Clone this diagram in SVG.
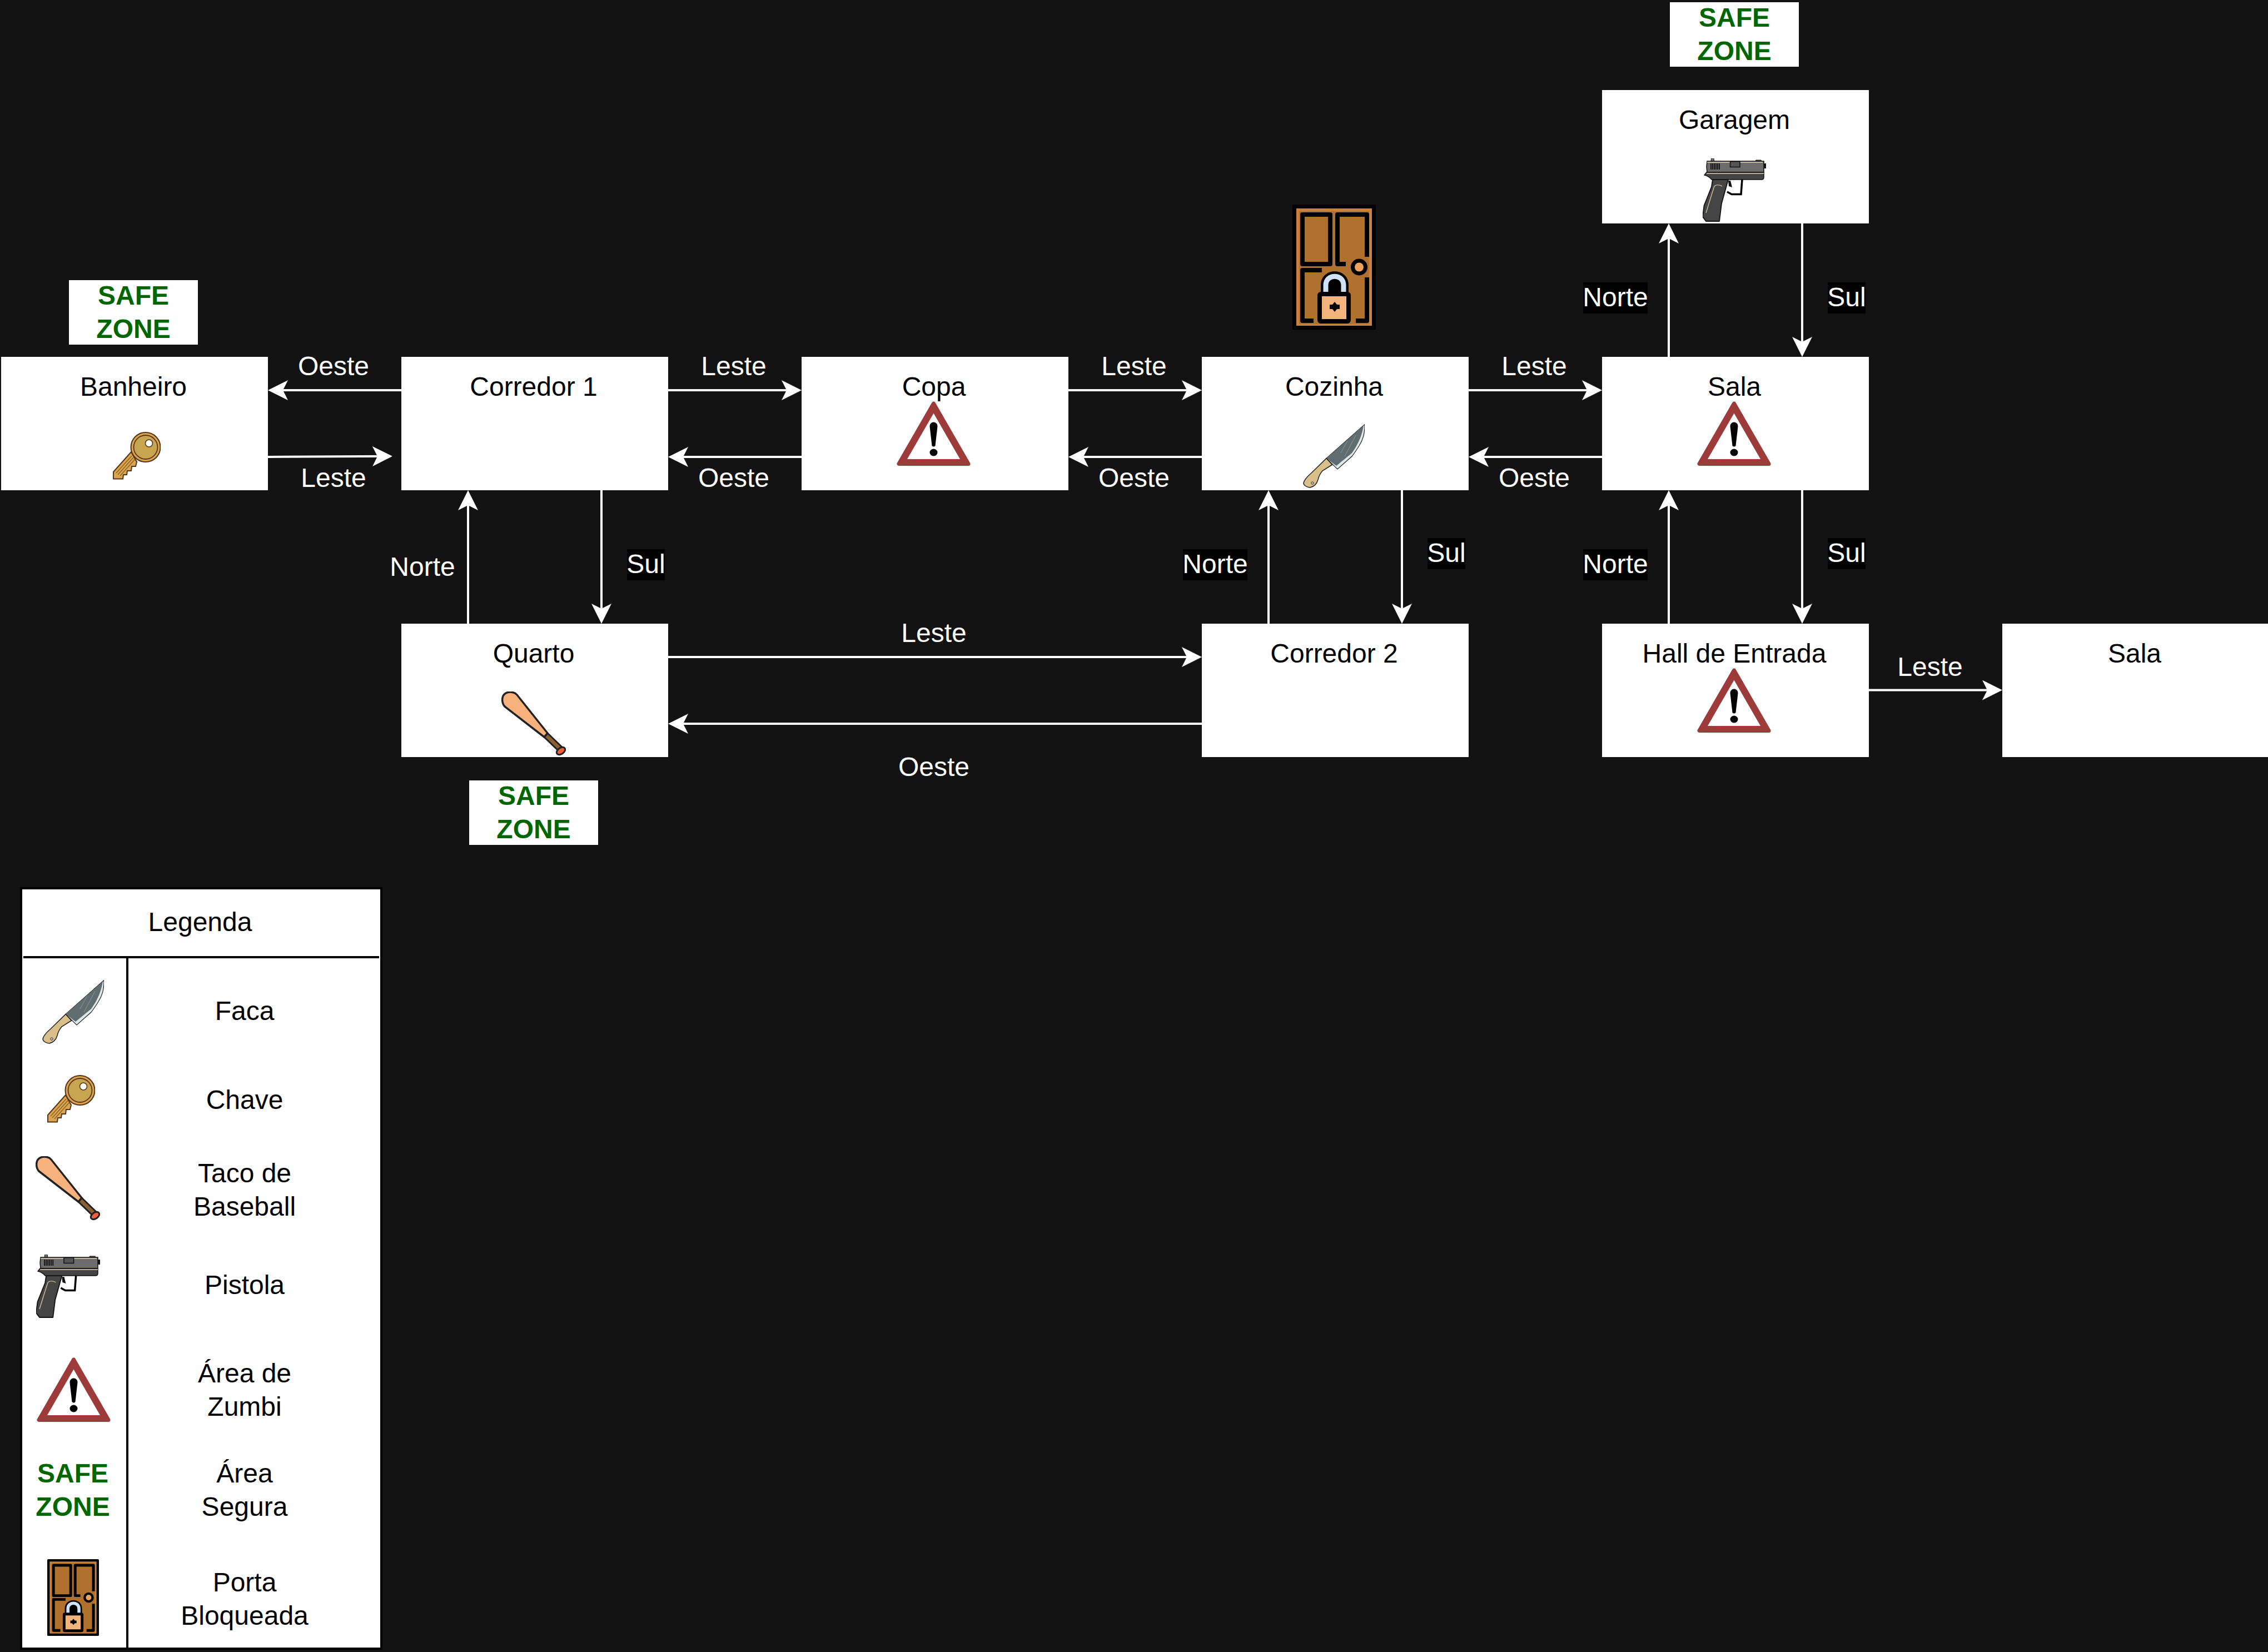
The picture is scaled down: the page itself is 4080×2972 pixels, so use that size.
<svg xmlns="http://www.w3.org/2000/svg" xmlns:xlink="http://www.w3.org/1999/xlink" width="4080" height="2972" viewBox="0 0 4080 2972">
<style>
text{font-family:"Liberation Sans",Arial,sans-serif;font-size:48px;text-anchor:middle;fill:#000}
.room{fill:#fff}
.edge{fill:none;stroke:#fff;stroke-width:4;marker-end:url(#arrow)}
.lbl{fill:#fff}
.lblbg{fill:#000}
.safe{font-weight:bold;fill:#006600}
.sz{fill:#fff}
.lg{fill:#fff;stroke:#000;stroke-width:4}
.lgl{fill:none;stroke:#000;stroke-width:4}
</style>
<defs>
<marker id="arrow" markerUnits="userSpaceOnUse" markerWidth="36" markerHeight="36" viewBox="0 0 36 36" refX="26" refY="18" orient="auto"><path d="M0,0L36,18L0,36L9,18Z" fill="#fff"/></marker>
<symbol id="knife" viewBox="0 0 111 115" preserveAspectRatio="none">
<path d="M111,0.5C111,18 108,28 101,39C96,47 92,53 88,58L62,81L42,61.6Z" fill="#dfe8e6" stroke="#222" stroke-width="1.2"/>
<path d="M109,3C106,20 100,35 88,52L60,75L42,61.6Z" fill="#5f6d70"/>
<path d="M95,20L75,58M80,30L68,52" stroke="#7a8a8c" stroke-width="1.5" fill="none"/>
<path d="M42,61.6L52.6,73L35,84C30,90 28,95 27,100C25,107 21,112 13,114C7,114 1,110 1,106C2,101 8,94 15,88Z" fill="#d9bf8a" stroke="#222" stroke-width="1.5"/>
<circle cx="17" cy="106" r="2.2" fill="#ccc" stroke="#333" stroke-width="1"/>
</symbol>
<symbol id="key" viewBox="0 0 86 86" preserveAspectRatio="none">
<path d="M33,36L1,72L1,84.5L18,84.5L19,77L25,77L26,70L33,70L34,62L41,62L43,54Z" fill="#d9a650" stroke="#5a3416" stroke-width="2"/>
<path d="M6,74L34,43M9,77L37,46M13,79L40,49" stroke="#8e6024" stroke-width="1.4" fill="none"/>
<circle cx="59" cy="27.500" r="26.500" fill="#d9a650" stroke="#5a3416" stroke-width="2"/>
<circle cx="59" cy="27.500" r="21.500" fill="#c8a550" stroke="#5a3416" stroke-width="1.800"/>
<circle cx="65" cy="20.500" r="6.500" fill="#fff" stroke="#5a3416" stroke-width="1.600"/>
</symbol>
<symbol id="bat" viewBox="0 0 116 116" preserveAspectRatio="none">
<path d="M76,81L83,75L108,99L102,106Z" fill="#8b6030" stroke="#222" stroke-width="3"/>
<path d="M6,27C0,20 0,8 7,3.500C13,0 23,0 28,6L83,75L77,82Z" fill="#f7b17c" stroke="#222" stroke-width="3.500" stroke-linejoin="round"/>
<ellipse cx="107" cy="107" rx="8.500" ry="5.500" transform="rotate(-35 107 107)" fill="#ee5f3a" stroke="#222" stroke-width="3"/>
</symbol>
<symbol id="pistol" viewBox="0 0 114 114" preserveAspectRatio="none">
<path d="M15,5L15.500,0L20,0L20.500,5Z" fill="#777" stroke="#111" stroke-width="1"/>
<path d="M95,4L96,3L105,3L106,5Z" fill="#777" stroke="#111" stroke-width="1"/>
<rect x="110" y="9" width="4" height="9" fill="#111"/>
<path d="M18,38L46,38L34,81L30,113L6,113L0,105L2.500,85L16,51Z" fill="#454545" stroke="#111" stroke-width="1.800" stroke-linejoin="round"/>
<path d="M35,50C30,47 24,47 21,50L14,72L6,98" fill="none" stroke="#d8d2b0" stroke-width="1.200"/>
<path d="M44,60L52,64.500L69,64.500L71,38" fill="none" stroke="#000" stroke-width="3.500"/>
<path d="M46,40L47,50L53,52L50,40Z" fill="#111"/>
<path d="M8,5L110,5L110,25L8,25L7,15Z" fill="#6c6c6c" stroke="#111" stroke-width="1.500"/>
<path d="M3,30L7,25L110,25L110,34Q110,38 106,38L16,38C12,33 8,31 3,30Z" fill="#444" stroke="#111" stroke-width="1.500" stroke-linejoin="round"/>
<path d="M8,7L49,7M67,7L108,7M7,27L110,27" stroke="#d8d2b0" stroke-width="1.500" fill="none"/>
<rect x="49.500" y="5.500" width="17.500" height="10" fill="#555" stroke="#111" stroke-width="1.500"/>
<path d="M15,9V20M18,9V20M21,9V20M24,9V20M27,9V20M30,9V20" stroke="#111" stroke-width="1.800" fill="none"/>
</symbol>
<symbol id="warn" viewBox="0 0 133 116" preserveAspectRatio="none">
<path d="M66.500,4L4,112.500L129,112.500Z" fill="#9d3a3a" stroke="#9d3a3a" stroke-width="7" stroke-linejoin="round"/>
<path d="M66.500,21.500L19,104L114,104Z" fill="#fff"/>
<path d="M59.500,45C59.500,35 73.500,35 73.500,45L69.500,80Q66.500,83 63.500,80Z" fill="#000"/>
<ellipse cx="66.500" cy="92" rx="7" ry="6.500" fill="#000"/>
</symbol>
<symbol id="door" viewBox="0 0 150 225" preserveAspectRatio="none">
<rect x="0" y="0" width="150" height="225" rx="3" fill="#000"/>
<rect x="7" y="7" width="136" height="211" fill="#c8813e"/>
<rect x="12" y="12" width="126" height="203" fill="#b0702e"/>
<rect x="18" y="18" width="50" height="89" fill="#b0702e" stroke="#000" stroke-width="8" stroke-linejoin="round"/>
<path d="M96,107L81,107L81,18L134,18L134,94" fill="none" stroke="#000" stroke-width="8" stroke-linejoin="round"/>
<circle cx="120" cy="112.500" r="11.500" fill="#eda35c" stroke="#000" stroke-width="7"/>
<path d="M53,118L18,118L18,209L38,209" fill="none" stroke="#000" stroke-width="8" stroke-linejoin="round"/>
<path d="M134,131L134,209L114,209" fill="none" stroke="#000" stroke-width="8" stroke-linejoin="round"/>
<path d="M51,160V145C51,112 101,112 101,145V160Z" fill="#000"/>
<path d="M60,160V145C60,124 92,124 92,145V160" fill="none" stroke="#cfe2f8" stroke-width="9"/>
<path d="M70,160V146C70,136 82,136 82,146V160" fill="none" stroke="#000" stroke-width="5"/>
<rect x="49" y="161" width="52" height="49" rx="2" fill="#f0b47c" stroke="#000" stroke-width="8"/>
<path d="M76,175l4,5h5v8h-5l-4,5l-4,-5h-5v-8h5Z" fill="#000"/>
</symbol>
</defs>
<rect id="background" width="4080" height="2972" fill="#121212"/>
<g id="connectors">
<path class="edge" d="M722,702H492"/>
<path class="edge" d="M482,822L696,820.800"/>
<path class="edge" d="M1202,702H1432"/>
<path class="edge" d="M1442,822H1212"/>
<path class="edge" d="M1922,702H2152"/>
<path class="edge" d="M2162,822H1932"/>
<path class="edge" d="M2642,702H2872"/>
<path class="edge" d="M2882,822H2652"/>
<path class="edge" d="M3002,642V412"/>
<path class="edge" d="M3242,402V632"/>
<path class="edge" d="M842,1122V892"/>
<path class="edge" d="M1082,882V1112"/>
<path class="edge" d="M2282,1122V892"/>
<path class="edge" d="M2522,882V1112"/>
<path class="edge" d="M3002,1122V892"/>
<path class="edge" d="M3242,882V1112"/>
<path class="edge" d="M1202,1182H2152"/>
<path class="edge" d="M2162,1302H1212"/>
<path class="edge" d="M3362,1241.500H3592"/>
</g>
<g id="connector-labels">
<text class="lbl" x="600" y="675">Oeste</text>
<text class="lbl" x="600" y="876">Leste</text>
<text class="lbl" x="1320" y="675">Leste</text>
<text class="lbl" x="1320" y="876">Oeste</text>
<text class="lbl" x="2040" y="675">Leste</text>
<text class="lbl" x="2040" y="876">Oeste</text>
<text class="lbl" x="2760" y="675">Leste</text>
<text class="lbl" x="2760" y="876">Oeste</text>
<rect class="lblbg" x="2848" y="508" width="116" height="56"/><text class="lbl" x="2906" y="551">Norte</text>
<rect class="lblbg" x="3288" y="508" width="68" height="56"/><text class="lbl" x="3322" y="551">Sul</text>
<text class="lbl" x="760" y="1036">Norte</text>
<rect class="lblbg" x="1128" y="988" width="68" height="56"/><text class="lbl" x="1162" y="1031">Sul</text>
<rect class="lblbg" x="2128" y="988" width="116" height="56"/><text class="lbl" x="2186" y="1031">Norte</text>
<rect class="lblbg" x="2568" y="968" width="68" height="56"/><text class="lbl" x="2602" y="1011">Sul</text>
<rect class="lblbg" x="2848" y="988" width="116" height="56"/><text class="lbl" x="2906" y="1031">Norte</text>
<rect class="lblbg" x="3288" y="968" width="68" height="56"/><text class="lbl" x="3322" y="1011">Sul</text>
<text class="lbl" x="1680" y="1155">Leste</text>
<text class="lbl" x="1680" y="1396">Oeste</text>
<text class="lbl" x="3472" y="1216">Leste</text>
</g>
<g id="node-garagem"><rect class="room" x="2882" y="162" width="480" height="240"/><text x="3120" y="232">Garagem</text><use href="#pistol" x="3063" y="285" width="114" height="114"/></g>
<g id="node-banheiro"><rect class="room" x="2" y="642" width="480" height="240"/><text x="240" y="712">Banheiro</text><use href="#key" x="203" y="777" width="86" height="86"/></g>
<g id="node-corredor1"><rect class="room" x="722" y="642" width="480" height="240"/><text x="960" y="712">Corredor 1</text></g>
<g id="node-copa"><rect class="room" x="1442" y="642" width="480" height="240"/><text x="1680" y="712">Copa</text><use href="#warn" x="1613" y="722" width="133" height="116"/></g>
<g id="node-cozinha"><rect class="room" x="2162" y="642" width="480" height="240"/><text x="2400" y="712">Cozinha</text><use href="#knife" x="2344" y="763" width="111" height="115"/></g>
<g id="node-sala"><rect class="room" x="2882" y="642" width="480" height="240"/><text x="3120" y="712">Sala</text><use href="#warn" x="3053" y="722" width="133" height="116"/></g>
<g id="node-quarto"><rect class="room" x="722" y="1122" width="480" height="240"/><text x="960" y="1192">Quarto</text><use href="#bat" x="902" y="1244" width="116" height="116"/></g>
<g id="node-corredor2"><rect class="room" x="2162" y="1122" width="480" height="240"/><text x="2400" y="1192">Corredor 2</text></g>
<g id="node-hall"><rect class="room" x="2882" y="1122" width="480" height="240"/><text x="3120" y="1192">Hall de Entrada</text><use href="#warn" x="3053" y="1202" width="133" height="116"/></g>
<g id="node-sala2"><rect class="room" x="3602" y="1122" width="480" height="240"/><text x="3840" y="1192">Sala</text></g>
<g id="safe-garagem"><rect class="sz" x="3004" y="4" width="232" height="116"/><text class="safe" x="3120" y="48">SAFE</text><text class="safe" x="3120" y="108">ZONE</text></g>
<g id="safe-banheiro"><rect class="sz" x="124" y="504" width="232" height="116"/><text class="safe" x="240" y="548">SAFE</text><text class="safe" x="240" y="608">ZONE</text></g>
<g id="safe-quarto"><rect class="sz" x="844" y="1404" width="232" height="116"/><text class="safe" x="960" y="1448">SAFE</text><text class="safe" x="960" y="1508">ZONE</text></g>
<g id="door-cozinha"><use href="#door" x="2325" y="368" width="150" height="225"/></g>
<g id="legend">
<rect class="lg" x="38" y="1598" width="648" height="1368"/>
<path class="lgl" d="M42,1722H682M229,1722V2964"/>
<text x="360" y="1675">Legenda</text>
<use href="#knife" x="76" y="1763" width="111" height="115"/>
<text x="440" y="1835">Faca</text>
<use href="#key" x="85" y="1934" width="86" height="86"/>
<text x="440" y="1995">Chave</text>
<use href="#bat" x="64" y="2080" width="116" height="116"/>
<text x="440" y="2127">Taco de</text><text x="440" y="2187">Baseball</text>
<use href="#pistol" x="65" y="2257" width="115" height="114"/>
<text x="440" y="2328">Pistola</text>
<use href="#warn" x="66" y="2442" width="133" height="116"/>
<text x="440" y="2487">Área de</text><text x="440" y="2547">Zumbi</text>
<text class="safe" x="131" y="2667">SAFE</text><text class="safe" x="131" y="2727">ZONE</text>
<text x="440" y="2667">Área</text><text x="440" y="2727">Segura</text>
<use href="#door" x="85" y="2805" width="93" height="138"/>
<text x="440" y="2863">Porta</text><text x="440" y="2923">Bloqueada</text>
</g>
</svg>
